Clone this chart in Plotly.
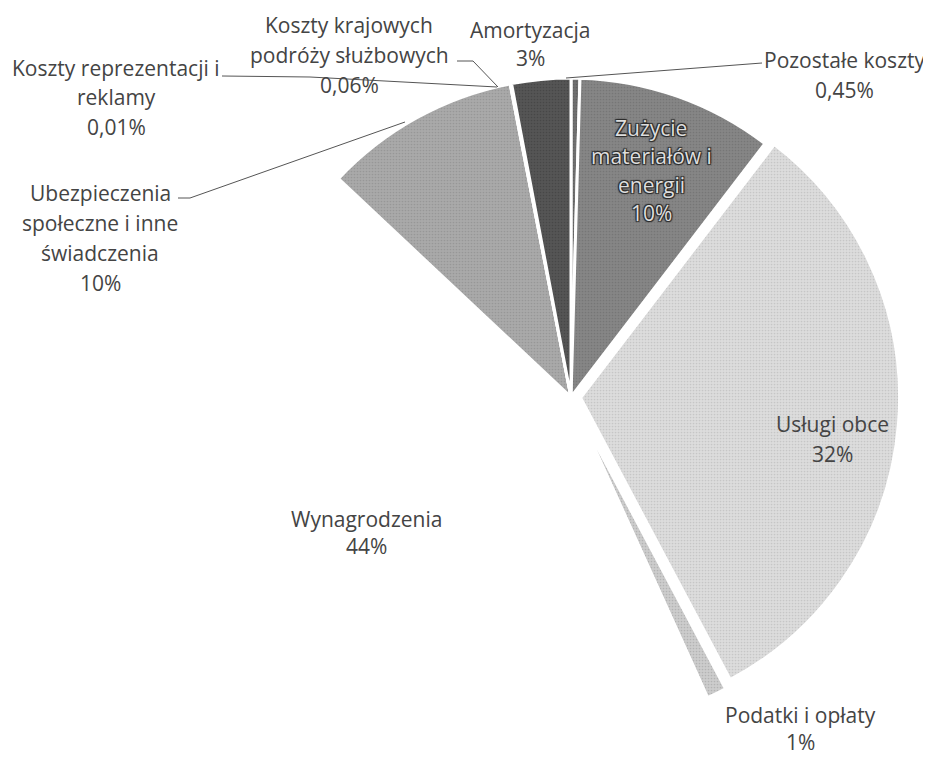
import plotly.graph_objects as go

# ---- data ----
labels = ["Pozostałe koszty", "Zużycie materiałów i energii", "Usługi obce",
          "Podatki i opłaty", "Wynagrodzenia",
          "Ubezpieczenia społeczne i inne świadczenia",
          "Koszty reprezentacji i reklamy", "Koszty krajowych podróży służbowych",
          "Amortyzacja"]
values = [0.45, 10, 32, 1, 44, 10, 0.01, 0.06, 3]
pct_labels = ["0,45%", "10%", "32%", "1%", "44%", "10%", "0,01%", "0,06%", "3%"]
label_lines = [["Pozostałe koszty"],
               ["Zużycie", "materiałów i", "energii"],
               ["Usługi obce"],
               ["Podatki i opłaty"],
               ["Wynagrodzenia"],
               ["Ubezpieczenia", "społeczne i inne", "świadczenia"],
               ["Koszty reprezentacji i", "reklamy"],
               ["Koszty krajowych", "podróży służbowych"],
               ["Amortyzacja"]]

# ---- styles / layout ----
OFF = 8                      # page body margin
W, H = 931 - OFF, 757 - OFF  # figure size so the page is exactly 931x757
colors = ["#707070", "#868686", "#dcdcdc", "#cccccc", "#ffffff",
          "#a9a9a9", "#9a9a9a", "#9a9a9a", "#555555"]
grain = ["#505050", "#666666", "#b0b0b0", "#9a9a9a", "#ffffff",
         "#858585", "#777777", "#777777", "#3a3a3a"]
pulls = [0, 0, 0.03, 0.035, 0, 0, 0, 0, 0]

# label anchor: (center x px, first line y px, line spacing px) in page pixels
label_pos = [(844, 60, 30), (651, 128, 28.5), (832, 424, 30), (800, 715, 27),
             (366, 519, 27), (100, 193, 30), (116, 68, 29.5), (349, 25, 30),
             (530, 30, 28)]
leaders = [
    [(566, 78), (762, 63)],
    None, None, None, None,
    [(178, 198), (190, 198), (405, 122)],
    [(222, 76), (310, 77), (497, 87)],
    [(457, 61), (473, 61), (498, 87)],
    None,
]

cx, cy, r = 571, 397, 319
R = r * (1 + max(pulls))


def px(x):
    return (x - OFF) / W


def py(y):
    return 1 - (y - OFF) / H


dom_x = [px(cx - R), px(cx + R)]
dom_y = [py(cy + R), py(cy - R)]

fig = go.Figure(go.Pie(
    labels=labels, values=values, sort=False, direction="clockwise",
    rotation=0, pull=pulls, textinfo="none", hoverinfo="label+percent",
    marker=dict(colors=colors, line=dict(color="white", width=3),
                pattern=dict(shape=["."] * len(values), fgcolor=grain,
                             bgcolor=colors, size=3, solidity=0.25,
                             fillmode="overlay")),
    domain=dict(x=dom_x, y=dom_y), showlegend=False,
))

font_family = "Open Sans, Noto Sans, sans-serif"
annotations = []
for i, lines in enumerate(label_lines):
    x0, y0, sp = label_pos[i]
    all_lines = lines + [pct_labels[i]]
    inside = (i == 1)
    for k, t in enumerate(all_lines):
        f = dict(family=font_family, size=21,
                 color="#dedede" if inside else "#444444")
        if inside:
            f["shadow"] = ("1px 1px 1px #2a2a2a, -1px -1px 1px #2a2a2a, "
                           "1px -1px 1px #2a2a2a, -1px 1px 1px #2a2a2a")
        annotations.append(dict(text=t, x=px(x0), y=py(y0 + k * sp),
                                xref="paper", yref="paper", xanchor="center",
                                yanchor="middle", showarrow=False, font=f,
                                borderpad=0))

shapes = []
for pts in leaders:
    if not pts:
        continue
    path = "M " + " L ".join(f"{px(a)},{py(b)}" for a, b in pts)
    shapes.append(dict(type="path", path=path, xref="paper", yref="paper",
                       line=dict(color="#555555", width=1)))

fig.update_layout(width=W, height=H, margin=dict(l=0, r=0, t=0, b=0),
                  paper_bgcolor="white", plot_bgcolor="white",
                  annotations=annotations, shapes=shapes)

fig.write_html("out.html")
